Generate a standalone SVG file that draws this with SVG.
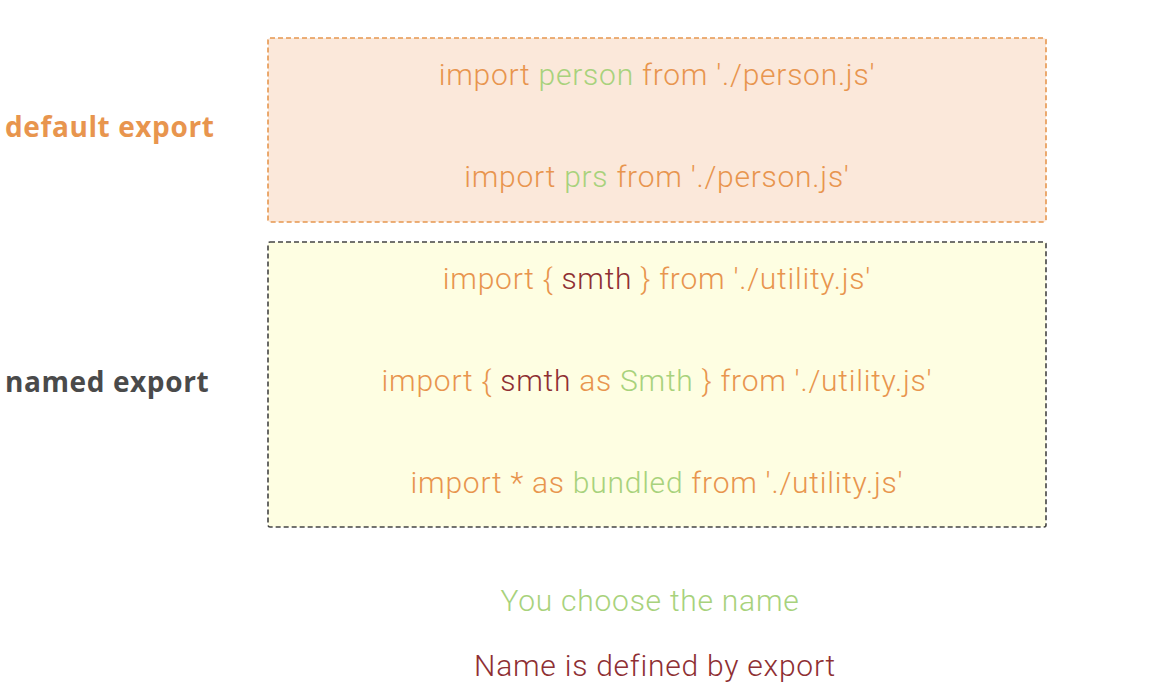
<svg xmlns="http://www.w3.org/2000/svg" width="1153" height="698" viewBox="0 0 1153 698">
<style>
.code{font-family:Roboto,"Open Sans","Liberation Sans",sans-serif;font-weight:300;font-size:30px;letter-spacing:0.75px;text-anchor:middle}
.o{fill:#e8954e}.g{fill:#a8d27c}.r{fill:#8e2f33}
.lbl{font-family:"Open Sans","Liberation Sans",sans-serif;font-weight:700;font-size:28px;letter-spacing:0.6px}
</style>
<rect width="1153" height="698" fill="#ffffff"/>
<g id="default-box">
<rect x="268" y="38" width="778" height="184" rx="2" fill="#fbe8da" stroke="#e6974f" stroke-width="1.6" stroke-dasharray="5,3"/>
<text class="code o" x="657" y="85">import <tspan class="g">person</tspan> from './person.js'</text>
<text class="code o" x="657" y="187">import <tspan class="g">prs</tspan> from './person.js'</text>
</g>
<g id="named-box">
<rect x="268" y="242" width="778" height="285" rx="2" fill="#fefee2" stroke="#444444" stroke-width="1.6" stroke-dasharray="5,3"/>
<text class="code o" x="657" y="289">import { <tspan class="r">smth</tspan> } from './utility.js'</text>
<text class="code o" x="657" y="391">import { <tspan class="r">smth</tspan> as <tspan class="g">Smth</tspan> } from './utility.js'</text>
<text class="code o" x="657" y="493">import * as <tspan class="g">bundled</tspan> from './utility.js'</text>
</g>
<g id="labels">
<text class="lbl" x="5" y="137" fill="#e8954e">default export</text>
<text class="lbl" x="5" y="392" fill="#4a4a4a">named export</text>
</g>
<g id="notes">
<text class="code g" x="650" y="611">You choose the name</text>
<text class="code r" x="655" y="676">Name is defined by export</text>
</g>
<g id="connectors"></g>
</svg>
